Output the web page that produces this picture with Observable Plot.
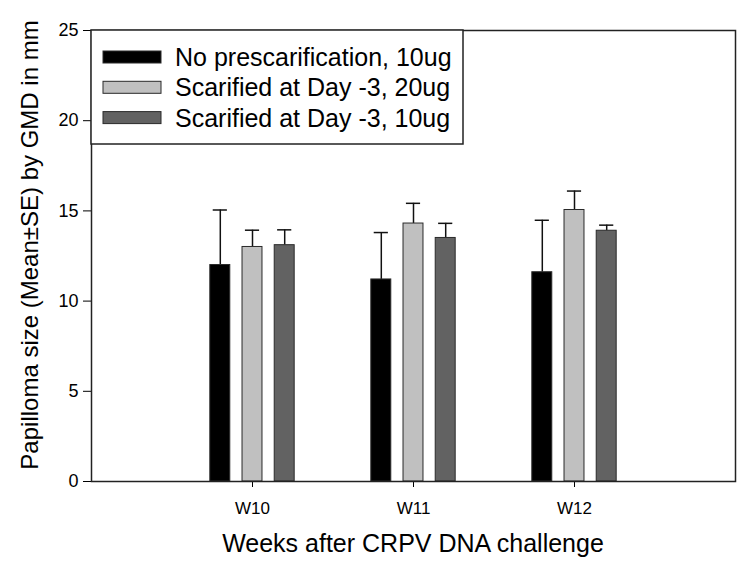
<!DOCTYPE html>
<html>
<head>
<meta charset="utf-8">
<script src="https://cdn.jsdelivr.net/npm/d3@7"></script>
<script src="https://cdn.jsdelivr.net/npm/@observablehq/plot@0.6"></script>
<style>
  html, body { margin: 0; padding: 0; background: #fff; }
</style>
</head>
<body>
<div id="chart"></div>
<script>
const weeks = ["W10", "W11", "W12"];
const groups = ["No prescarification, 10ug", "Scarified at Day -3, 20ug", "Scarified at Day -3, 10ug"];
const colors = ["#000000", "#c0c0c0", "#626262"];
const meanNoScar10 = [12.0, 11.2, 11.6];
const meanScar20 = [13.0, 14.3, 15.05];
const meanScar10 = [13.1, 13.5, 13.9];
const seNoScar10 = [3.05, 2.6, 2.88];
const seScar20 = [0.93, 1.12, 1.05];
const seScar10 = [0.85, 0.81, 0.31];
const yTicks = [0, 5, 10, 15, 20, 25];
const xTitle = "Weeks after CRPV DNA challenge";
const yTitle = "Papilloma size (Mean\u00B1SE) by GMD in mm";

const means = [meanNoScar10, meanScar20, meanScar10];
const ses = [seNoScar10, seScar20, seScar10];
const data = weeks.flatMap((w, i) => groups.map((g, j) => ({
  week: i + 1, weekName: w, gi: j, group: g, mean: means[j][i], se: ses[j][i]
})));

const offset = 0.2, half = 0.062, cap = 0.044;
const center = d => d.week + (d.gi - 1) * offset;

const chart = Plot.plot({
  width: 750,
  height: 567,
  marginLeft: 91,
  marginRight: 15,
  marginTop: 30,
  marginBottom: 86,
  style: { fontFamily: "'Liberation Sans', Arial, sans-serif", fontSize: "18px", background: "white", color: "#000" },
  x: { domain: [0, 4] },
  y: { domain: [0, 25] },
  color: { domain: groups, range: colors },
  marks: [
    Plot.ruleX(data, { x: center, y1: "mean", y2: d => d.mean + d.se, stroke: "#111", strokeWidth: 1.5 }),
    Plot.ruleY(data, { x1: d => center(d) - cap, x2: d => center(d) + cap, y: d => d.mean + d.se, stroke: "#111", strokeWidth: 1.5 }),
    Plot.rectY(data, { x1: d => center(d) - half, x2: d => center(d) + half, y1: 0, y2: "mean", fill: "group", stroke: "#2a2a2a", strokeWidth: 1 }),
    Plot.axisY({ ticks: yTicks, tickSize: 8, tickPadding: 5, fontSize: 18, label: null }),
    Plot.axisX({ ticks: [1, 2, 3], tickFormat: d => weeks[d - 1], tickSize: 6, tickPadding: 14, fontSize: 17, label: null }),
    Plot.frame({ stroke: "#222", strokeWidth: 1.5 })
  ]
});

document.getElementById("chart").appendChild(chart);

const svg = d3.select(chart);
const font = "'Liberation Sans', Arial, sans-serif";

// Tick label sizes (only the axes' texts exist at this point)
svg.selectAll("text").each(function () {
  const t = d3.select(this);
  const isX = weeks.includes(this.textContent.trim());
  const size = isX ? "17px" : "18px";
  t.attr("font-size", size).style("font-size", size).style("font-family", font);
  let p = this.parentNode;
  while (p && p !== chart) {
    if (p.tagName === "g") { p.setAttribute("font-size", size); p.style.fontSize = size; }
    p = p.parentNode;
  }
});

// Legend (inside plot, top-left)
const lg = svg.append("g").attr("text-anchor", "start");
lg.append("rect").attr("x", 91).attr("y", 30).attr("width", 372).attr("height", 114)
  .attr("fill", "white").attr("stroke", "#222").attr("stroke-width", 1.5);
groups.forEach((g, i) => {
  const cy = 57 + i * 30.3;
  lg.append("rect").attr("x", 103).attr("y", cy - 6).attr("width", 58).attr("height", 12)
    .attr("fill", colors[i]).attr("stroke", "#2a2a2a").attr("stroke-width", 1);
  lg.append("text").attr("x", 175).attr("y", cy + 9).attr("text-anchor", "start")
    .style("font-family", font).style("font-size", "25px").attr("fill", "#000").text(g);
});

// Axis titles
svg.append("text").attr("transform", "translate(38,245) rotate(-90)")
  .attr("text-anchor", "middle").style("font-family", font).style("font-size", "24px")
  .attr("fill", "#000").text(yTitle);
svg.append("text").attr("x", 413).attr("y", 552)
  .attr("text-anchor", "middle").style("font-family", font).style("font-size", "25px")
  .attr("fill", "#000").text(xTitle);
</script>
</body>
</html>
